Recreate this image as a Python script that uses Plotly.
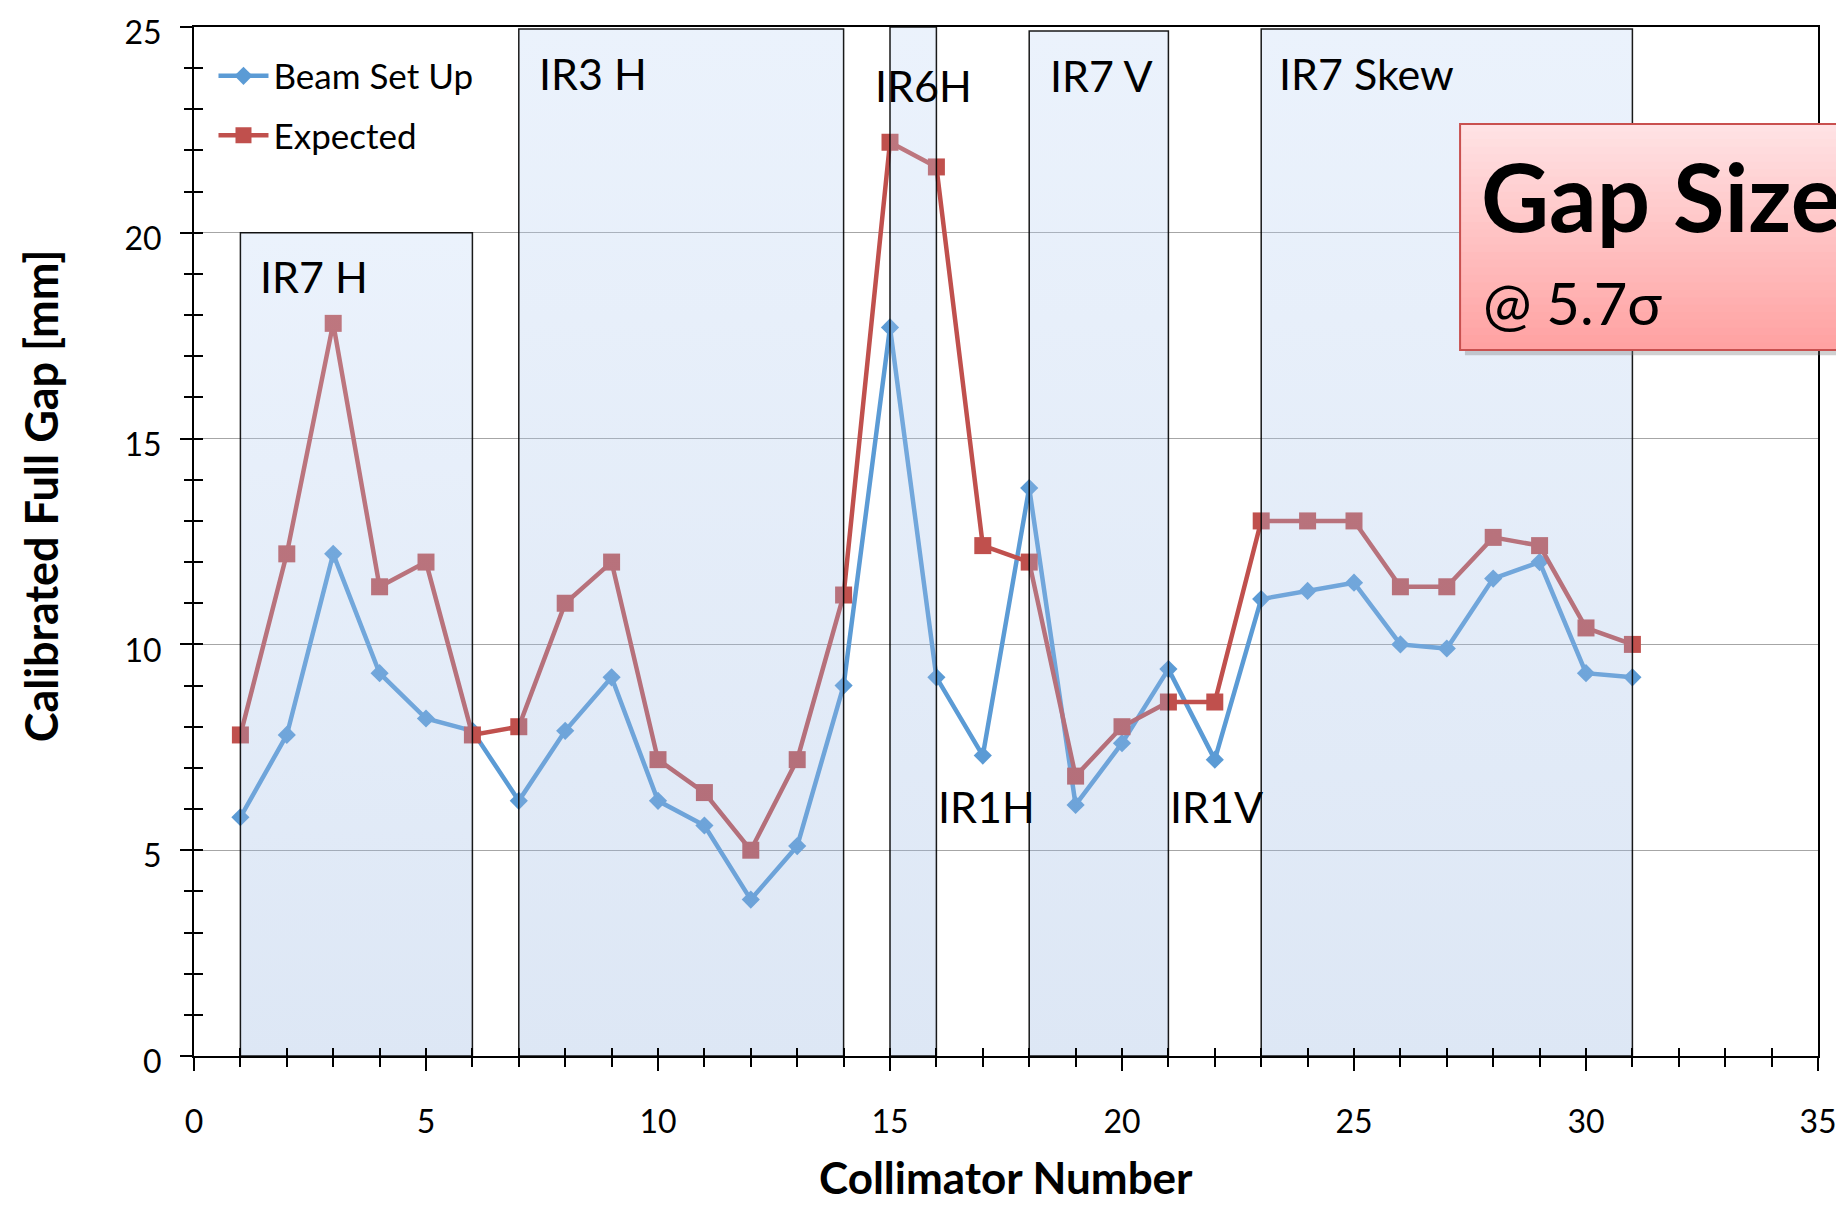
import plotly.graph_objects as go

# collimator index and measured / expected full gap [mm]
collimator = list(range(1, 32))
beam_set_up = [5.8, 7.8, 12.2, 9.3, 8.2, 7.9, 6.2, 7.9, 9.2, 6.2, 5.6, 3.8, 5.1, 9.0, 17.7,
               9.2, 7.3, 13.8, 6.1, 7.6, 9.4, 7.2, 11.1, 11.3, 11.5, 10.0, 9.9, 11.6, 12.0, 9.3, 9.2]
expected = [7.8, 12.2, 17.8, 11.4, 12.0, 7.8, 8.0, 11.0, 12.0, 7.2, 6.4, 5.0, 7.2, 11.2, 22.2,
            21.6, 12.4, 12.0, 6.8, 8.0, 8.6, 8.6, 13.0, 13.0, 13.0, 11.4, 11.4, 12.6, 12.4, 10.4, 10.0]

# shaded collimator groups
region_names = ["IR7 H", "IR3 H", "IR6H", "IR7 V", "IR7 Skew"]
region_start = [1, 7, 15, 18, 23]
region_end = [6, 14, 16, 21, 31]
region_top = [20, 24.95, 25, 24.9, 24.95]

# label anchors (data coords)
label_pos = {
    "IR7 H": (1.38, 18.95),
    "IR3 H": (7.39, 23.88),
    "IR6H": (14.63, 23.57),
    "IR7 V": (18.41, 23.83),
    "IR7 Skew": (23.34, 23.88),
    "IR1H": (15.99, 6.07),
    "IR1V": (20.99, 6.07),
}

FONT = "Lato"
BLUE = "#5B9BD5"
RED = "#C0504D"
XR = [0, 35]
YR = [0, 25]

fig = go.Figure()

fig.add_trace(go.Scatter(
    x=collimator, y=beam_set_up, name="Beam Set Up", mode="lines+markers",
    line=dict(color=BLUE, width=4.5), marker=dict(symbol="diamond", size=14, color=BLUE),
    legendgroup="a", hoverinfo="skip",
))
fig.add_trace(go.Scatter(
    x=collimator, y=expected, name="Expected", mode="lines+markers",
    line=dict(color=RED, width=4.5), marker=dict(symbol="square", size=17, color=RED),
    legendgroup="b", xaxis="x2", yaxis="y2", hoverinfo="skip",
))

for name, x0, x1, top in zip(region_names, region_start, region_end, region_top):
    fig.add_trace(go.Scatter(
        x=[x0, x1, x1, x0, x0], y=[0, 0, top, top, 0], mode="lines", fill="toself",
        line=dict(color="rgba(0,0,0,0.9)", width=1.5),
        fillgradient=dict(type="vertical", colorscale=[[0, "rgba(142,175,222,0.3)"],
                                                      [1, "rgba(188,212,245,0.3)"]]),
        xaxis="x3", yaxis="y3", showlegend=False, hoverinfo="skip",
    ))

for text, (lx, ly) in label_pos.items():
    fig.add_annotation(x=lx, y=ly, text=text, showarrow=False, xanchor="left", yanchor="middle",
                       font=dict(family=FONT, size=43, color="black"))

# "Gap Size" callout box (paper coords, extends past the right edge)
bx0, bx1, by0, by1 = 0.7796, 1.04, 0.6861, 0.9057
fig.add_shape(type="rect", xref="paper", yref="paper", x0=bx0 + 0.003, x1=bx1 + 0.003,
              y0=by0 - 0.005, y1=by1 - 0.005, fillcolor="rgba(120,120,120,0.35)", line_width=0)
n_bands = 30
top_c, bot_c = (255, 227, 229), (255, 161, 161)
for i in range(n_bands):
    t = (i + 0.5) / n_bands
    c = tuple(round(bot_c[k] + (top_c[k] - bot_c[k]) * t) for k in range(3))
    ya = by0 + (by1 - by0) * i / n_bands
    yb = by0 + (by1 - by0) * (i + 1.3) / n_bands
    fig.add_shape(type="rect", xref="paper", yref="paper", x0=bx0, x1=bx1, y0=ya, y1=min(yb, by1),
                  fillcolor=f"rgb{c}", line_width=0)
fig.add_shape(type="rect", xref="paper", yref="paper", x0=bx0, x1=bx1, y0=by0, y1=by1,
              line=dict(color="#C9504F", width=2), fillcolor="rgba(0,0,0,0)")
fig.add_annotation(xref="paper", yref="paper", x=0.7915, y=0.836, text="Gap Size", showarrow=False,
                   xanchor="left", yanchor="middle", font=dict(family=FONT, size=94, color="black", weight="bold"))
fig.add_annotation(xref="paper", yref="paper", x=0.7925, y=0.732, text="@ 5.7σ", showarrow=False,
                   xanchor="left", yanchor="middle", font=dict(family=FONT, size=58, color="black"))

# axis titles
fig.add_annotation(xref="paper", yref="paper", x=0.5, y=-0.118, text="Collimator Number", showarrow=False,
                   xanchor="center", yanchor="middle", font=dict(family=FONT, size=44, color="black", weight="bold"))
fig.add_annotation(xref="paper", yref="paper", x=-0.0942, y=0.544, text="Calibrated Full Gap [mm]",
                   showarrow=False, textangle=-90, xanchor="center", yanchor="middle",
                   font=dict(family=FONT, size=45, color="black", weight="bold"))

tickfont = dict(family=FONT, size=32, color="black")
fig.update_layout(
    width=1844, height=1205,
    margin=dict(l=186, r=34, t=19, b=157, autoexpand=False),
    paper_bgcolor="white", plot_bgcolor="white",
    font=dict(family=FONT, color="black"),
    xaxis=dict(range=XR, dtick=5, tick0=0, ticks="outside", ticklen=13, tickwidth=1.5, tickcolor="black",
               minor=dict(dtick=1, ticks="outside", ticklen=9, tickwidth=1.5, tickcolor="black"),
               showline=True, linecolor="black", linewidth=2, mirror=True, showgrid=False, zeroline=False,
               tickfont=tickfont, ticklabelstandoff=24, ticklabeloverflow="allow", automargin=False,
               fixedrange=True),
    yaxis=dict(range=YR, dtick=5, tick0=0, ticks="outside", ticklen=12, tickwidth=1.5, tickcolor="black",
               minor=dict(dtick=1, ticks="outside", ticklen=8, tickwidth=1.5, tickcolor="black"),
               showline=True, linecolor="black", linewidth=2, mirror=True,
               showgrid=True, gridcolor="#A6A6A6", gridwidth=1.2, zeroline=False,
               tickfont=tickfont, ticklabelstandoff=12, ticklabelshift=6, ticklabeloverflow="allow",
               automargin=False, fixedrange=True),
    xaxis2=dict(overlaying="x", matches="x", anchor="y2", range=XR, dtick=1, tick0=0, ticks="inside",
                ticklen=8, tickwidth=1.5, tickcolor="black", showticklabels=False, showline=False,
                showgrid=False, zeroline=False, automargin=False),
    yaxis2=dict(overlaying="y", matches="y", anchor="x2", range=YR, dtick=1, tick0=0, ticks="inside",
                ticklen=9, tickwidth=1.5, tickcolor="black", showticklabels=False, showline=False,
                showgrid=False, zeroline=False, automargin=False),
    xaxis3=dict(overlaying="x", matches="x", anchor="y3", range=XR, showticklabels=False, ticks="",
                showline=False, showgrid=False, zeroline=False, automargin=False),
    yaxis3=dict(overlaying="y", matches="y", anchor="x3", range=YR, showticklabels=False, ticks="",
                showline=False, showgrid=False, zeroline=False, automargin=False),
    legend=dict(x=0.012, y=0.981, xanchor="left", yanchor="top", bgcolor="rgba(0,0,0,0)",
                font=dict(family=FONT, size=35, color="black"), traceorder="grouped", tracegroupgap=11,
                itemwidth=50),
    showlegend=True,
)

fig.write_html("out.html")
